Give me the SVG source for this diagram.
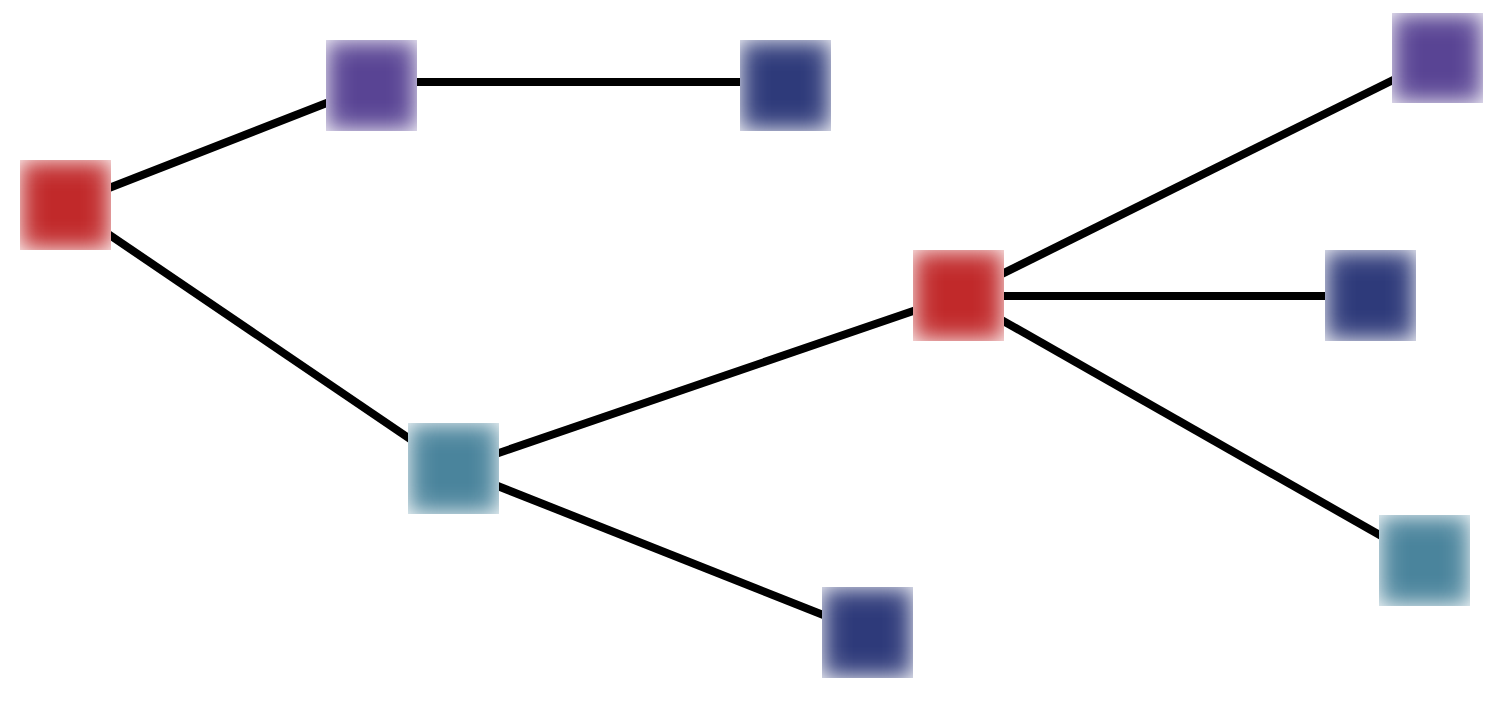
<svg xmlns="http://www.w3.org/2000/svg" width="1504" height="704" viewBox="0 0 1504 704">
<defs>
<linearGradient id="gx" x1="0" y1="0" x2="1" y2="0">
<stop offset="0" stop-color="#fff" stop-opacity="0.48"/>
<stop offset="0.044" stop-color="#fff" stop-opacity="0.62"/>
<stop offset="0.088" stop-color="#fff" stop-opacity="0.74"/>
<stop offset="0.132" stop-color="#fff" stop-opacity="0.84"/>
<stop offset="0.176" stop-color="#fff" stop-opacity="0.91"/>
<stop offset="0.22" stop-color="#fff" stop-opacity="0.95"/>
<stop offset="0.286" stop-color="#fff" stop-opacity="0.985"/>
<stop offset="0.352" stop-color="#fff" stop-opacity="1"/>
<stop offset="0.648" stop-color="#fff" stop-opacity="1"/>
<stop offset="0.714" stop-color="#fff" stop-opacity="0.985"/>
<stop offset="0.78" stop-color="#fff" stop-opacity="0.95"/>
<stop offset="0.824" stop-color="#fff" stop-opacity="0.91"/>
<stop offset="0.868" stop-color="#fff" stop-opacity="0.84"/>
<stop offset="0.912" stop-color="#fff" stop-opacity="0.74"/>
<stop offset="0.956" stop-color="#fff" stop-opacity="0.62"/>
<stop offset="1" stop-color="#fff" stop-opacity="0.48"/>
</linearGradient>
<linearGradient id="gy" href="#gx" x1="0" y1="0" x2="0" y2="1"/>
<mask id="mx" maskContentUnits="objectBoundingBox" style="mask-type:alpha"><rect x="0" y="0" width="1" height="1" fill="url(#gx)"/></mask>
<mask id="my" maskContentUnits="objectBoundingBox" style="mask-type:alpha"><rect x="0" y="0" width="1" height="1" fill="url(#gy)"/></mask>
<style>
.edge{stroke:#000;stroke-width:8;fill:none}
.bg{fill:#fff}
.fx{mask:url(#mx)}
.n{mask:url(#my)}
.red{fill:#c1292a}
.purple{fill:#594494}
.navy{fill:#2e3a7a}
.teal{fill:#4a849c}
</style>
</defs>
<rect width="1504" height="704" fill="#fff"/>
<g id="connectors">
<line class="edge" x1="65.5" y1="205" x2="371.5" y2="85.5"/>
<line class="edge" x1="65.5" y1="205" x2="453.5" y2="468.5"/>
<line class="edge" x1="371.5" y1="82" x2="785.5" y2="82"/>
<line class="edge" x1="453.5" y1="468.5" x2="958.5" y2="295.5"/>
<line class="edge" x1="453.5" y1="468.5" x2="867.5" y2="632.5"/>
<line class="edge" x1="958.5" y1="295.5" x2="1437.5" y2="58"/>
<line class="edge" x1="958.5" y1="296" x2="1370.5" y2="296"/>
<line class="edge" x1="958.5" y1="295.5" x2="1424.5" y2="560.5"/>
</g>
<g id="node-red1"><rect class="bg" x="20" y="160" width="91" height="90"/><g class="fx"><rect class="n red" x="20" y="160" width="91" height="90"/></g></g>
<g id="node-purple1"><rect class="bg" x="326" y="40" width="91" height="91"/><g class="fx"><rect class="n purple" x="326" y="40" width="91" height="91"/></g></g>
<g id="node-navy1"><rect class="bg" x="740" y="40" width="91" height="91"/><g class="fx"><rect class="n navy" x="740" y="40" width="91" height="91"/></g></g>
<g id="node-teal1"><rect class="bg" x="408" y="423" width="91" height="91"/><g class="fx"><rect class="n teal" x="408" y="423" width="91" height="91"/></g></g>
<g id="node-navy3"><rect class="bg" x="822" y="587" width="91" height="91"/><g class="fx"><rect class="n navy" x="822" y="587" width="91" height="91"/></g></g>
<g id="node-red2"><rect class="bg" x="913" y="250" width="91" height="91"/><g class="fx"><rect class="n red" x="913" y="250" width="91" height="91"/></g></g>
<g id="node-purple2"><rect class="bg" x="1392" y="13" width="91" height="90"/><g class="fx"><rect class="n purple" x="1392" y="13" width="91" height="90"/></g></g>
<g id="node-navy2"><rect class="bg" x="1325" y="250" width="91" height="91"/><g class="fx"><rect class="n navy" x="1325" y="250" width="91" height="91"/></g></g>
<g id="node-teal2"><rect class="bg" x="1379" y="515" width="91" height="91"/><g class="fx"><rect class="n teal" x="1379" y="515" width="91" height="91"/></g></g>
</svg>
